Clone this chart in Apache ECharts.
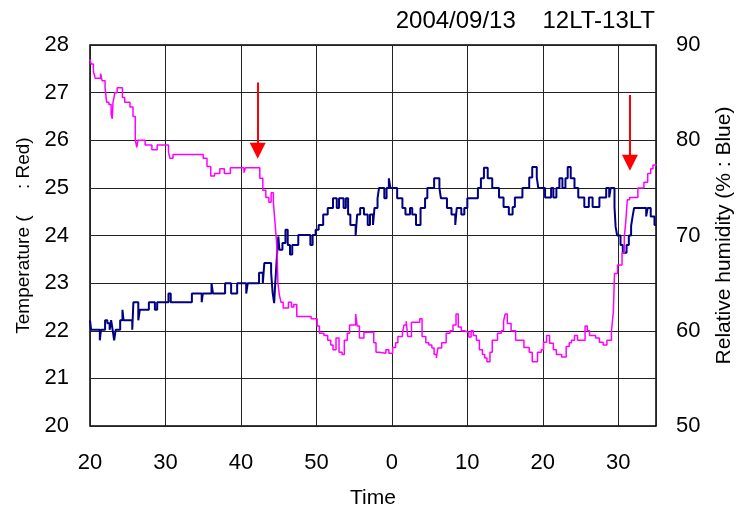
<!DOCTYPE html>
<html><head><meta charset="utf-8">
<script src="https://cdn.jsdelivr.net/npm/echarts@6/dist/echarts.min.js"></script>
<style>html,body{margin:0;padding:0;background:#fff}#c{width:737px;height:511px}</style>
</head><body><div id="c"></div>
<script>
// minutes after 12:20 local time
const xTickLabels = ['20','30','40','50','0','10','20','30'];
const titleText = '2004/09/13    12LT-13LT';
// Temperature (left axis, magenta): [minute, value]
const temperature = [
[0,27.7],[0.15,27.6],[0.45,27.45],[0.7,27.3],[1.4,27.4],[1.6,27.25],[2.0,27.1],[2.2,26.8],[2.5,26.75],[2.8,26.55],[2.95,26.45],[3.05,26.8],[3.3,27.0],[3.6,27.1],[4.3,26.9],[4.6,26.8],[5.3,26.7],[5.7,26.5],[6.0,26.0],[6.2,25.85],[6.35,26.0],[7.3,25.9],[8.2,25.8],[8.9,25.9],[10.4,25.75],[10.6,25.62],[11.0,25.7],[15.0,25.62],[15.5,25.45],[16.0,25.25],[16.5,25.3],[17.2,25.4],[17.8,25.3],[18.6,25.42],[20.4,25.32],[20.6,25.42],[22.5,25.2],[22.9,24.95],[23.3,24.8],[23.7,24.7],[24.0,24.9],[24.3,24.7],[24.5,24.3],[24.7,23.9],[24.8,23.6],[24.9,23.0],[25.1,22.75],[25.3,22.6],[25.6,22.48],[26.3,22.6],[26.7,22.5],[27.0,22.55],[27.4,22.3],[29.3,22.25],[30.1,22.1],[30.4,21.95],[31.0,21.9],[31.5,21.8],[31.9,21.7],[32.2,21.6],[32.6,21.85],[33.0,21.55],[33.4,21.5],[33.7,21.8],[34.1,21.95],[34.4,22.12],[35.2,22.35],[35.4,22.1],[35.7,21.85],[36.3,21.97],[37.6,21.75],[37.9,21.55],[38.3,21.53],[39.2,21.6],[39.6,21.53],[40.1,21.65],[40.5,21.75],[40.8,21.88],[41.4,21.95],[41.6,22.12],[41.9,22.2],[42.1,21.88],[42.6,22.18],[43.7,22.25],[44.0,21.88],[44.5,21.75],[44.9,21.7],[45.3,21.64],[45.6,21.5],[45.9,21.43],[46.1,21.64],[46.6,21.75],[47.2,21.95],[47.7,22.0],[48.1,22.12],[48.5,22.35],[48.8,22.08],[49.2,22.0],[49.6,21.97],[50.2,21.87],[50.5,22.0],[50.8,21.9],[51.2,21.8],[51.6,21.6],[52.0,21.5],[52.3,21.43],[52.6,21.35],[53.0,21.55],[53.3,21.8],[54.0,21.95],[54.5,22.0],[54.8,22.2],[55.0,22.35],[55.3,22.15],[55.8,22.0],[56.4,21.8],[57.5,21.65],[58.2,21.55],[58.6,21.35],[59.3,21.55],[59.8,21.6],[60.1,21.76],[60.5,21.9],[60.9,21.74],[61.4,21.6],[61.8,21.5],[62.5,21.45],[63.1,21.67],[63.5,21.75],[63.8,21.8],[64.2,21.9],[64.6,21.8],[65.6,22.1],[65.9,22.0],[66.2,21.9],[67.0,21.85],[67.5,21.76],[68.0,21.7],[68.5,21.8],[69.1,22.0],[69.35,22.4],[69.5,23.2],[69.9,23.38],[70.5,23.63],[70.8,23.97],[71.0,24.3],[71.2,24.75],[71.5,24.8],[72.6,25.0],[73.4,25.12],[73.9,25.3],[74.3,25.4],[74.6,25.48],[75,25.5]
];
// Relative humidity (right axis, navy): [minute, value]
const humidity = [
[0,61.1],[0.15,60.1],[1.3,59.0],[1.45,60.1],[2.0,61.1],[2.3,60.8],[2.6,60.1],[2.8,61.1],[3.0,60.1],[3.2,59.0],[3.4,60.1],[4.0,61.1],[4.3,62.2],[4.45,61.1],[5.6,60.1],[5.75,63.0],[6.4,61.1],[6.6,62.2],[7.8,63.0],[8.6,62.2],[8.9,63.0],[10.4,63.9],[10.7,63.0],[13.5,63.9],[14.8,63.0],[14.95,63.9],[16.1,65.0],[16.3,63.9],[17.9,65.0],[18.7,63.9],[19.5,65.0],[20.7,63.9],[20.9,65.0],[22.4,66.1],[22.9,65.0],[23.1,67.1],[24.0,66.1],[24.2,64.0],[24.4,62.9],[24.55,65.0],[24.8,68.2],[24.95,69.9],[25.1,68.5],[25.5,69.2],[25.9,70.6],[26.2,69.0],[26.5,68.0],[26.8,69.0],[27.6,70.05],[29.2,69.0],[29.5,70.05],[29.9,70.6],[30.3,71.1],[30.9,72.2],[31.5,72.9],[32.2,73.9],[32.7,72.9],[33.0,73.9],[33.6,72.9],[33.9,73.9],[34.2,72.2],[34.5,71.1],[35.2,70.0],[35.4,72.2],[35.8,72.9],[36.3,72.2],[36.8,71.1],[37.1,72.2],[37.5,71.1],[37.7,72.9],[38.1,73.9],[38.3,75.0],[39.0,73.9],[39.3,75.0],[39.6,76.0],[39.8,75.0],[40.7,73.9],[41.4,72.9],[41.8,72.2],[42.4,72.9],[42.7,72.2],[43.2,71.1],[43.8,72.9],[44.4,73.9],[44.7,75.0],[45.6,76.0],[46.3,75.0],[46.5,73.9],[47.3,72.9],[47.9,72.2],[48.4,71.1],[48.6,72.9],[49.2,72.2],[49.6,72.9],[50.0,73.9],[51.4,75.0],[51.8,76.0],[52.2,77.1],[52.7,76.0],[53.3,75.0],[54.2,74.0],[54.8,73.0],[55.5,72.2],[56.0,73.0],[56.3,74.0],[57.3,75.0],[58.2,76.1],[58.6,77.2],[59.2,76.1],[59.4,75.0],[60.3,74.0],[61.1,75.0],[61.4,74.0],[61.8,75.0],[62.2,76.0],[62.6,75.0],[63.0,76.0],[63.3,77.2],[63.7,76.0],[64.2,75.0],[64.7,74.0],[65.5,73.0],[66.1,74.0],[66.6,73.0],[67.5,74.0],[68.4,75.0],[68.8,74.0],[69.0,75.0],[69.5,73.0],[69.65,70.9],[69.85,70.0],[70.3,69.0],[70.6,68.2],[71.1,69.0],[71.4,70.0],[71.7,71.0],[71.9,72.0],[72.1,72.9],[73.7,72.0],[73.9,72.9],[74.3,72.0],[74.8,71.1],[75,71.1]
];
// red arrows: [minute, start temperature, end temperature]
const arrows = [[22.22,27.21,25.78],[71.55,26.95,25.53]];

const FONT = "'Liberation Sans', Arial, sans-serif";
const chart = echarts.init(document.getElementById('c'), null, {renderer:'canvas'});
chart.setOption({
  animation:false,
  backgroundColor:'#fff',
  title:{text:titleText, right:77, top:4, textStyle:{fontFamily:FONT, fontSize:24, fontWeight:'normal', color:'#000'}},
  grid:{left:90, right:81, top:45, bottom:85, outerBoundsMode:'none', containLabel:false,
    show:true, borderColor:'#000', borderWidth:1.5, backgroundColor:'#fff'},
  xAxis:{type:'value', min:0, max:75, interval:10,
    name:'Time', nameLocation:'middle', nameGap:62,
    nameTextStyle:{fontFamily:FONT, fontSize:21, color:'#000'},
    axisLine:{show:false}, axisTick:{show:false},
    axisLabel:{fontFamily:FONT, fontSize:22, color:'#000', margin:26, showMaxLabel:false,
      formatter:function(v){ return xTickLabels[Math.round(v/10)] || ''; }},
    splitLine:{show:true, lineStyle:{color:'#222', width:1}}},
  yAxis:[
    {type:'value', min:20, max:28, interval:1, position:'left',
      name:'Temperature (     : Red)', nameLocation:'middle', nameGap:56, nameRotate:90,
      nameTextStyle:{fontFamily:FONT, fontSize:19, color:'#000'},
      axisLine:{show:false}, axisTick:{show:false},
      axisLabel:{fontFamily:FONT, fontSize:22, color:'#000', margin:21},
      splitLine:{show:true, lineStyle:{color:'#222', width:1}}},
    {type:'value', min:50, max:90, interval:10, position:'right',
      name:'Relative humidity (% : Blue)', nameLocation:'middle', nameGap:58, nameRotate:90,
      nameTextStyle:{fontFamily:FONT, fontSize:21, color:'#000'},
      axisLine:{show:false}, axisTick:{show:false},
      axisLabel:{fontFamily:FONT, fontSize:22, color:'#000', margin:20},
      splitLine:{show:false}}
  ],
  series:[
    {type:'line', name:'Humidity', yAxisIndex:1, data:humidity, step:'end', showSymbol:false,
      lineStyle:{color:'#000080', width:2}, z:3},
    {type:'line', name:'Temperature', yAxisIndex:0, data:temperature, step:'end', showSymbol:false,
      lineStyle:{color:'#FF00FF', width:1.5}, z:4,
      markLine:{silent:true, symbol:['none','triangle'], symbolSize:[16,16],
        label:{show:false}, lineStyle:{color:'#FF0000', width:2, type:'solid'},
        data: arrows.map(a => [{coord:[a[0],a[1]]},{coord:[a[0],a[2]]}])}}
  ]
});
</script></body></html>
